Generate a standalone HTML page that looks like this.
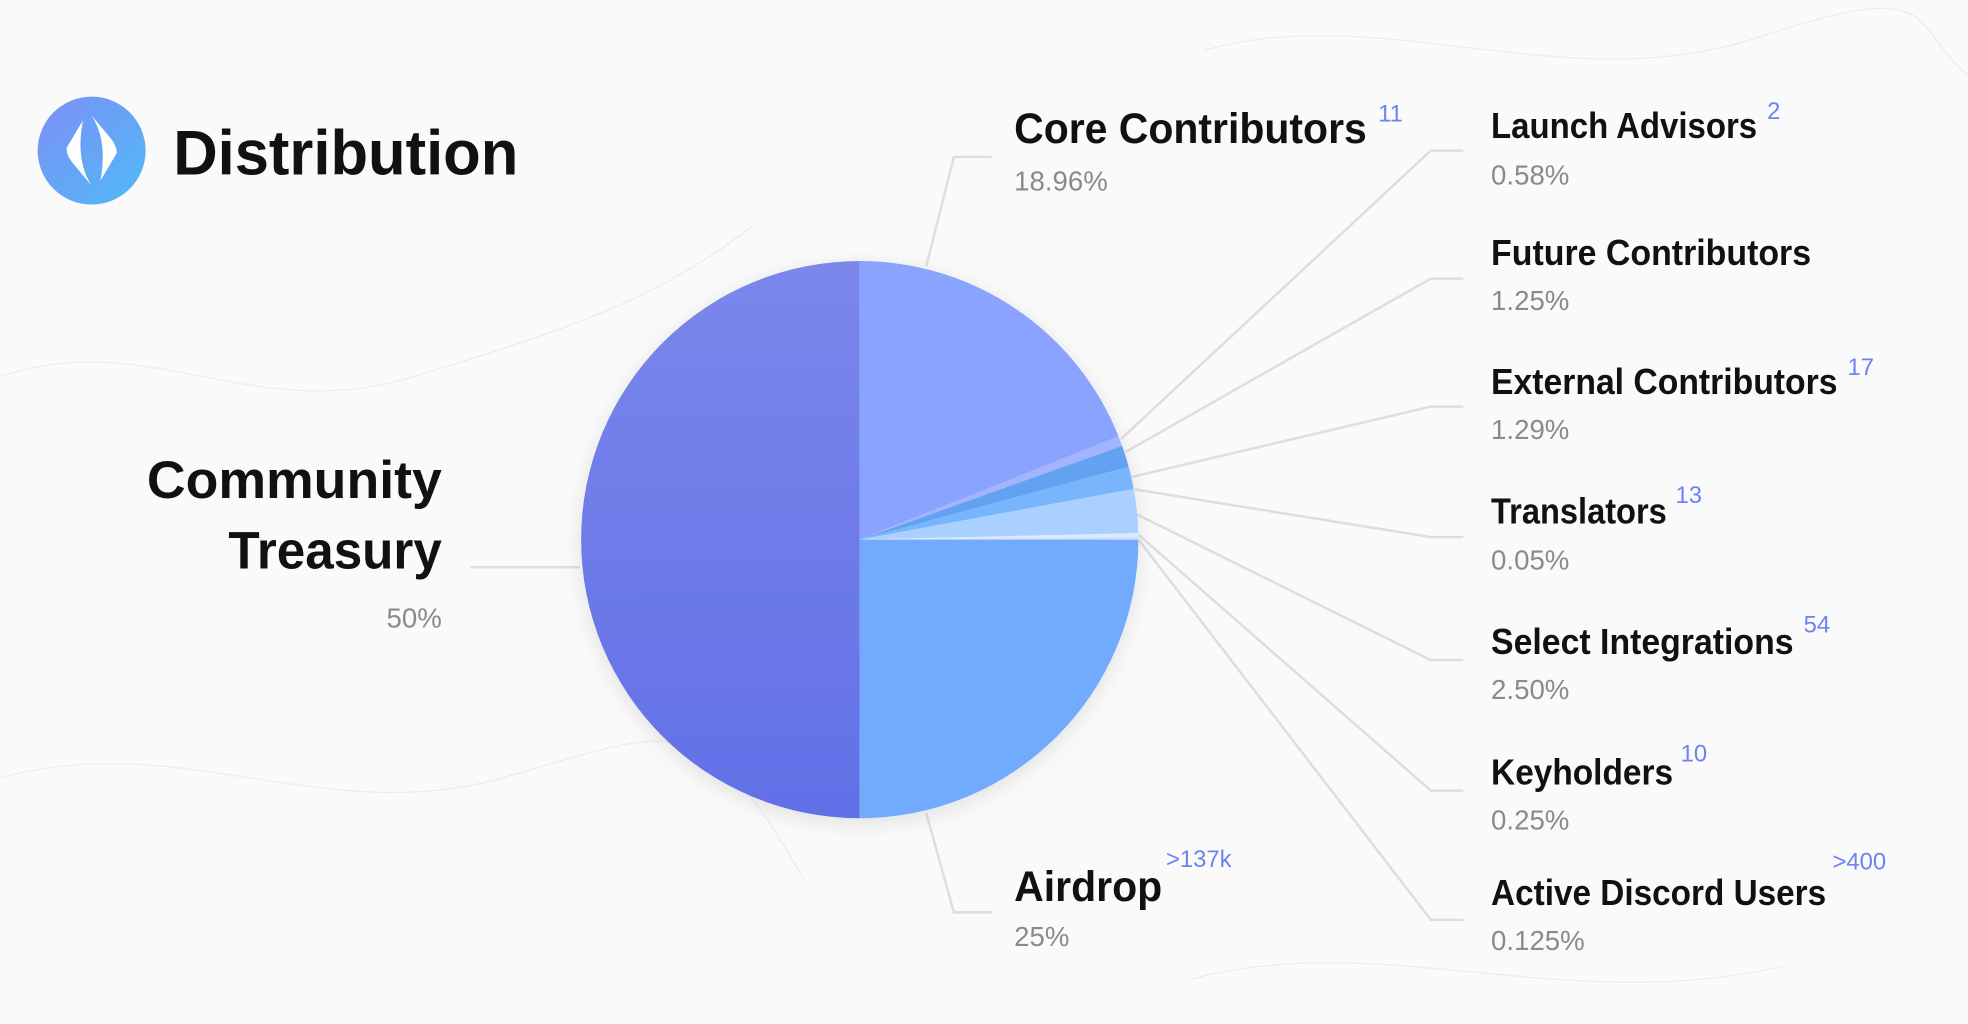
<!DOCTYPE html>
<html><head><meta charset="utf-8"><style>
html,body{margin:0;padding:0;background:#fafafa;}
svg{display:block}
text{font-family:"Liberation Sans",sans-serif}
</style></head><body>
<svg width="1968" height="1024" viewBox="0 0 1568 816" preserveAspectRatio="none" xmlns="http://www.w3.org/2000/svg">
<defs>
<linearGradient id="tr" x1="0" y1="0" x2="0" y2="1"><stop offset="0" stop-color="#7b87eb"/><stop offset="1" stop-color="#6170e7"/></linearGradient>
<linearGradient id="lg" x1="0" y1="0" x2="1" y2="1"><stop offset="0" stop-color="#7d8ff6"/><stop offset="1" stop-color="#4fbaf6"/></linearGradient>
<filter id="sh" x="-20%" y="-20%" width="140%" height="140%"><feDropShadow dx="0" dy="4" stdDeviation="8" flood-color="#000" flood-opacity="0.10"/></filter>
</defs>
<rect width="1568" height="816" fill="#fafafa"/>
<g fill="none" stroke="#ececec" stroke-width="1">
<path d="M0 300 C120 260 200 340 330 300 S520 240 600 180"/>
<path d="M0 620 C140 580 260 660 400 620 S560 560 640 700"/>
<path d="M960 40 C1100 0 1250 80 1400 30 S1520 20 1568 60"/>
<path d="M950 780 C1100 740 1250 810 1420 770"/>
</g>
<!-- logo -->
<circle cx="73" cy="120" r="43" fill="url(#lg)"/>
<path d="M70 93 L56 118 Q54 124 58 128 Q56 118 70 93Z" fill="#fff"/>
<path d="M66 96 L53 118 Q53 124 58 130 L73 148 Q60 128 66 96Z" fill="#fff"/>
<path d="M80 144 L93 122 Q93 116 88 110 L73 92 Q86 112 80 144Z" fill="#fff"/>
<text x="138" y="139" font-size="50" font-weight="bold" fill="#111" textLength="275" lengthAdjust="spacingAndGlyphs">Distribution</text>
<!-- leader lines -->
<g stroke="#dedede" stroke-width="2" fill="none">
<polyline points="738,212 760,125 790,125"/>
<polyline points="738,648 760,727 790,727"/>
<polyline points="375,452 462,452"/>
<polyline points="893,350 1140,120 1166,120"/>
<polyline points="897,360 1140,222 1166,222"/>
<polyline points="902,380 1140,324 1166,324"/>
<polyline points="904,390 1140,428 1166,428"/>
<polyline points="906,410 1140,526 1166,526"/>
<polyline points="907,426 1140,630 1166,630"/>
<polyline points="907,430 1140,733 1166,733"/>
</g>
<!-- pie -->
<g filter="url(#sh)">
<path d="M685 430 L685 652 A222 222 0 0 1 463 430 A222 222 0 0 1 685 208 Z" fill="url(#tr)"/>
<path d="M685 430 L685 208 A222 222 0 0 1 891.2 347.7 Z" fill="#8aa3fe"/>
<path d="M685 430 L891.2 347.7 A222 222 0 0 1 894.1 355.3 Z" fill="#a3b4ff"/>
<path d="M685 430 L894.1 355.3 A222 222 0 0 1 899.3 371.9 Z" fill="#62a2f0"/>
<path d="M685 430 L899.3 371.9 A222 222 0 0 1 903.3 389.5 Z" fill="#79b5fd"/>
<path d="M685 430 L903.3 389.5 A222 222 0 0 1 903.4 390.2 Z" fill="#9cc8ff"/>
<path d="M685 430 L903.4 390.2 A222 222 0 0 1 906.9 424.8 Z" fill="#aad0ff"/>
<path d="M685 430 L906.9 424.8 A222 222 0 0 1 907 428.3 Z" fill="#dde9fd"/>
<path d="M685 430 L907 428.3 A222 222 0 0 1 907 430.1 Z" fill="#c4dcfd"/>
<path d="M685 430 L907 430.1 A222 222 0 0 1 685 652 Z" fill="#72aafd"/>
</g>
<!-- labels -->
<g font-weight="bold" fill="#111">
<text x="352" y="397" font-size="42" text-anchor="end" textLength="235" lengthAdjust="spacingAndGlyphs">Community</text>
<text x="352" y="453" font-size="42" text-anchor="end" textLength="170" lengthAdjust="spacingAndGlyphs">Treasury</text>
<text x="808" y="114" font-size="34" textLength="281" lengthAdjust="spacingAndGlyphs">Core Contributors</text>
<text x="808" y="718" font-size="34" textLength="118" lengthAdjust="spacingAndGlyphs">Airdrop</text>
<text x="1188" y="110" font-size="29" textLength="212" lengthAdjust="spacingAndGlyphs">Launch Advisors</text>
<text x="1188" y="211" font-size="29" textLength="255" lengthAdjust="spacingAndGlyphs">Future Contributors</text>
<text x="1188" y="314" font-size="29" textLength="276" lengthAdjust="spacingAndGlyphs">External Contributors</text>
<text x="1188" y="417" font-size="29" textLength="140" lengthAdjust="spacingAndGlyphs">Translators</text>
<text x="1188" y="521" font-size="29" textLength="241" lengthAdjust="spacingAndGlyphs">Select Integrations</text>
<text x="1188" y="625" font-size="29" textLength="145" lengthAdjust="spacingAndGlyphs">Keyholders</text>
<text x="1188" y="721" font-size="29" textLength="267" lengthAdjust="spacingAndGlyphs">Active Discord Users</text>
</g>
<g fill="#8a8a8a" font-size="22">
<text x="352" y="500" text-anchor="end">50%</text>
<text x="808" y="152">18.96%</text>
<text x="808" y="754">25%</text>
<text x="1188" y="147">0.58%</text>
<text x="1188" y="247">1.25%</text>
<text x="1188" y="350">1.29%</text>
<text x="1188" y="454">0.05%</text>
<text x="1188" y="557">2.50%</text>
<text x="1188" y="661">0.25%</text>
<text x="1188" y="757">0.125%</text>
</g>
<g fill="#6f82f2" font-size="19">
<text x="1098" y="97">11</text>
<text x="1408" y="95">2</text>
<text x="1472" y="299">17</text>
<text x="1335" y="401">13</text>
<text x="1437" y="504">54</text>
<text x="1339" y="607">10</text>
<text x="1460" y="693">&gt;400</text>
<text x="929" y="691">&gt;137k</text>
</g>
</svg>
</body></html>
